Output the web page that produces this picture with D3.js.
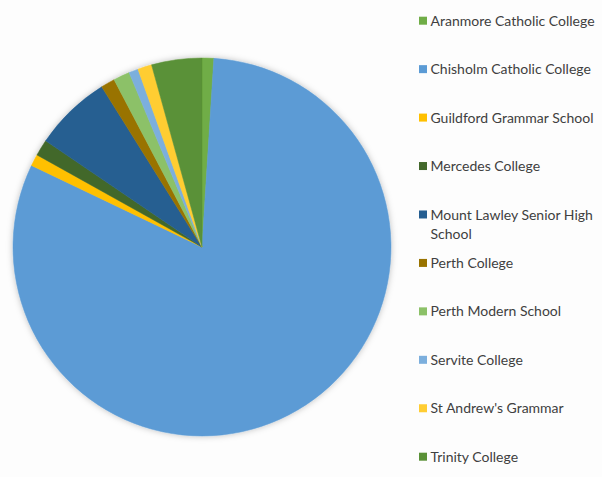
<!DOCTYPE html>
<html>
<head>
<meta charset="utf-8">
<script src="https://cdn.jsdelivr.net/npm/d3@7"></script>
<style>
  body { margin: 0; background: #fdfdfd; }
  svg { display: block; }
  .legend text { font-family: Lato, "Noto Sans", sans-serif; font-size: 14px; fill: #404040; }
</style>
</head>
<body>
<svg width="602" height="477"></svg>
<script>
// schools, in the order excel draws them (clockwise from 12 o'clock)
var schools = ["Aranmore Catholic College", "Chisholm Catholic College", "Guildford Grammar School",
  "Mercedes College", "Mount Lawley Senior High School", "Perth College", "Perth Modern School",
  "Servite College", "St Andrew's Grammar", "Trinity College"];
// share of students, percent
var shares = [1.0, 81.1, 1.0, 1.4, 6.6, 1.2, 1.4, 0.8, 1.2, 4.3];
// legend labels, wrapped as in the picture
var legendLines = [["Aranmore Catholic College"], ["Chisholm Catholic College"], ["Guildford Grammar School"],
  ["Mercedes College"], ["Mount Lawley Senior High", "School"], ["Perth College"], ["Perth Modern School"],
  ["Servite College"], ["St Andrew's Grammar"], ["Trinity College"]];
var colours = ["#70ad47", "#5b9bd5", "#ffc000", "#43682b", "#255e91", "#997300",
  "#8cc168", "#7cafdd", "#ffcd33", "#5a9137"];

var svg = d3.select("svg"),
    cx = 202, cy = 247, radius = 189;

var color = d3.scaleOrdinal().domain(schools).range(colours);

var defs = svg.append("defs");
var f = defs.append("filter").attr("id", "shadow")
    .attr("x", "-10%").attr("y", "-10%").attr("width", "120%").attr("height", "120%");
f.append("feDropShadow").attr("dx", 0).attr("dy", 0).attr("stdDeviation", 3)
    .attr("flood-color", "#000").attr("flood-opacity", 0.25);

var data = schools.map(function(s, i) { return { name: s, value: shares[i] }; });

var pie = d3.pie().sort(null).value(function(d) { return d.value; });
var arc = d3.arc().innerRadius(0).outerRadius(radius);

var g = svg.append("g")
    .attr("transform", "translate(" + cx + "," + cy + ")")
    .attr("filter", "url(#shadow)");

g.selectAll("path")
  .data(pie(data))
  .enter().append("path")
    .attr("d", arc)
    .attr("fill", function(d) { return color(d.data.name); })
    .attr("stroke", function(d) { return color(d.data.name); })
    .attr("stroke-width", 0.5);

// legend
var ly = d3.scalePoint().domain(schools).range([20.7, 456.7]);

var legend = svg.append("g").attr("class", "legend")
  .selectAll("g")
  .data(schools)
  .enter().append("g")
    .attr("transform", function(d) { return "translate(419," + ly(d) + ")"; });

legend.append("rect")
    .attr("x", 0).attr("y", -4)
    .attr("width", 8).attr("height", 8)
    .attr("fill", function(d) { return color(d); });

legend.each(function(d, i) {
  var t = d3.select(this).append("text").attr("x", 11.5).attr("y", 0);
  legendLines[i].forEach(function(line, j) {
    t.append("tspan").attr("x", 11.5).attr("dy", j == 0 ? "0.36em" : "19").text(line);
  });
});
</script>
</body>
</html>
